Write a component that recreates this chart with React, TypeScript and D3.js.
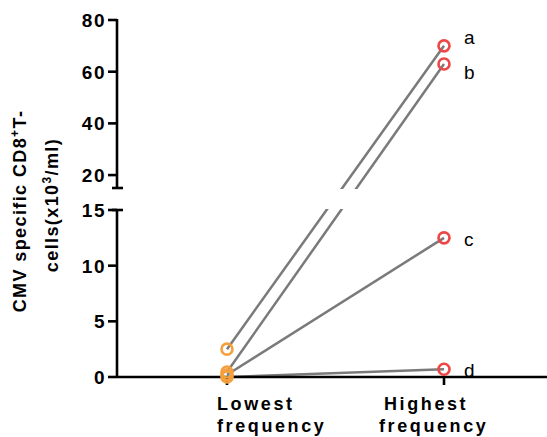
import React from "react";
import * as d3 from "d3";

const categories = ["Lowest frequency", "Highest frequency"];
const seriesNames = ["a", "b", "c", "d"];
const lowestValues = [2.5, 0.45, 0.2, 0];
const highestValues = [70, 63, 12.5, 0.7];
const upperTicks = [20, 40, 60, 80];
const lowerTicks = [0, 5, 10, 15];

const W = 547;
const H = 437;
const FONT = "'Liberation Sans', Arial, sans-serif";

export default function App() {
  const axisX = 117;
  const upperTop = 20;
  const upperBottom = 188;
  const lowerTop = 210;
  const lowerBottom = 377;

  const yUpper = d3.scaleLinear().domain([15, 80]).range([upperBottom, upperTop]);
  const yLower = d3.scaleLinear().domain([0, 15]).range([lowerBottom, lowerTop]);
  const y = (v: number) => (v > 15 ? yUpper(v) : yLower(v));
  const x = d3.scalePoint<string>().domain(categories).range([227, 444]);

  const x0 = x(categories[0])!;
  const x1 = x(categories[1])!;
  const line = d3.line<[number, number]>();

  const labelLines: { lines: string[]; anchorX: number[] }[] = [
    { lines: ["Lowest", "frequency"], anchorX: [217, 217] },
    { lines: ["Highest", "frequency"], anchorX: [384, 379] },
  ];

  const sw = 2.6;
  return (
    <svg width={W} height={H} style={{ position: "absolute", left: 0, top: 0 }}>
      <rect x={0} y={0} width={W} height={H} fill="#fff" />
      <defs>
        <clipPath id="plotclip">
          <rect x={0} y={0} width={W} height={upperBottom + 1} />
          <rect x={0} y={lowerTop - 1} width={W} height={H} />
        </clipPath>
      </defs>
      {/* connecting lines */}
      <g clipPath="url(#plotclip)">
        {seriesNames.map((s, i) => (
          <path
            key={s}
            d={line([
              [x0, y(lowestValues[i])],
              [x1, y(highestValues[i])],
            ])!}
            stroke="#7a7a7a"
            strokeWidth={2.5}
            fill="none"
          />
        ))}
      </g>
      {/* x axis */}
      <line x1={axisX} x2={W} y1={lowerBottom} y2={lowerBottom} stroke="#000" strokeWidth={sw} />
      {categories.map((c) => (
        <line key={c} x1={x(c)} x2={x(c)} y1={lowerBottom} y2={lowerBottom + 8} stroke="#000" strokeWidth={sw} />
      ))}
      {/* y axis upper */}
      <line x1={axisX} x2={axisX} y1={upperTop - 1} y2={upperBottom} stroke="#000" strokeWidth={sw} />
      <line x1={axisX - 5} x2={axisX + 6} y1={upperBottom} y2={upperBottom} stroke="#000" strokeWidth={sw} />
      {upperTicks.map((t) => (
        <g key={"u" + t}>
          <line x1={axisX - 9} x2={axisX} y1={yUpper(t)} y2={yUpper(t)} stroke="#000" strokeWidth={sw} />
          <text x={106} y={yUpper(t)} dy="0.36em" textAnchor="end" fontFamily={FONT} fontWeight="bold" fontSize={19} letterSpacing={1.5}>
            {t}
          </text>
        </g>
      ))}
      {/* y axis lower */}
      <line x1={axisX} x2={axisX} y1={lowerTop} y2={lowerBottom + 1} stroke="#000" strokeWidth={sw} />
      <line x1={axisX - 5} x2={axisX + 6} y1={lowerTop} y2={lowerTop} stroke="#000" strokeWidth={sw} />
      {lowerTicks.map((t) => (
        <g key={"l" + t}>
          <line x1={axisX - 9} x2={axisX} y1={yLower(t)} y2={yLower(t)} stroke="#000" strokeWidth={sw} />
          <text x={106} y={yLower(t)} dy="0.36em" textAnchor="end" fontFamily={FONT} fontWeight="bold" fontSize={19} letterSpacing={1.5}>
            {t}
          </text>
        </g>
      ))}
      {/* points */}
      {seriesNames.map((s, i) => (
        <circle key={"lo" + s} cx={x0} cy={y(lowestValues[i])} r={5.5} fill="none" stroke="#F5A03C" strokeWidth={2.6} />
      ))}
      {seriesNames.map((s, i) => (
        <circle key={"hi" + s} cx={x1} cy={y(highestValues[i])} r={5.5} fill="none" stroke="#EE4646" strokeWidth={2.6} />
      ))}
      {/* series labels */}
      {seriesNames.map((s, i) => (
        <text
          key={"lab" + s}
          x={464}
          y={y(highestValues[i]) + (i === 0 ? -4 : i === 1 ? 13 : 6)}
          fontFamily={FONT}
          fontSize={19}
          dy="0.1em"
        >
          {s}
        </text>
      ))}
      {/* x labels */}
      {labelLines.map((l, i) => (
        <g key={"xl" + i}>
          <text x={l.anchorX[0]} y={410} fontFamily={FONT} fontWeight="bold" fontSize={18} letterSpacing={2.6}>
            {l.lines[0]}
          </text>
          <text x={l.anchorX[1]} y={432} fontFamily={FONT} fontWeight="bold" fontSize={18} letterSpacing={2.6}>
            {l.lines[1]}
          </text>
        </g>
      ))}
      {/* y label */}
      <text transform="translate(26,211) rotate(-90)" textAnchor="middle" fontFamily={FONT} fontWeight="bold" fontSize={18} letterSpacing={1.4}>
        CMV specific CD8<tspan fontSize={12} dy={-7}>+</tspan>
        <tspan dy={7}>T-</tspan>
      </text>
      <text transform="translate(58,205) rotate(-90)" textAnchor="middle" fontFamily={FONT} fontWeight="bold" fontSize={18} letterSpacing={1.4}>
        cells(x10<tspan fontSize={12} dy={-7}>3</tspan>
        <tspan dy={7}>/ml)</tspan>
      </text>
    </svg>
  );
}
